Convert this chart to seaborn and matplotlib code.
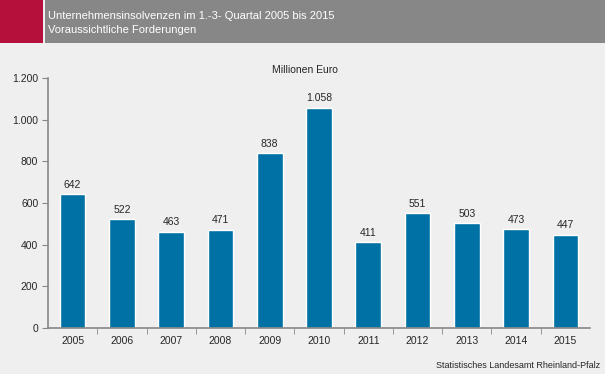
import pandas as pd
import matplotlib.pyplot as plt
import seaborn as sns
from matplotlib.patches import Rectangle

# Data
years = ['2005', '2006', '2007', '2008', '2009', '2010', '2011', '2012', '2013', '2014', '2015']
forderungen = [642, 522, 463, 471, 838, 1058, 411, 551, 503, 473, 447]
yticks = [0, 200, 400, 600, 800, 1000, 1200]
ytick_labels = ['0', '200', '400', '600', '800', '1.000', '1.200']

df = pd.DataFrame({'Jahr': years, 'Wert': forderungen})

bg = '#eeefee'
sns.set_style('white')
plt.rcParams['font.family'] = ['Liberation Sans', 'DejaVu Sans']

fig = plt.figure(figsize=(6.05, 3.74), dpi=100, facecolor=bg)

# Header band
fig.patches.append(Rectangle((0, 1 - 43 / 374), 43 / 605, 43 / 374, transform=fig.transFigure,
                             facecolor='#b5103c', edgecolor='none'))
fig.patches.append(Rectangle((45 / 605, 1 - 43 / 374), 1, 43 / 374, transform=fig.transFigure,
                             facecolor='#878787', edgecolor='none'))
fig.text(48 / 605, 1 - 16 / 374, 'Unternehmensinsolvenzen im 1.-3- Quartal 2005 bis 2015',
         color='white', fontsize=8, va='center', ha='left')
fig.text(48 / 605, 1 - 30 / 374, 'Voraussichtliche Forderungen',
         color='white', fontsize=8, va='center', ha='left')

ax = fig.add_axes([48 / 605, 1 - 328 / 374, (590 - 48) / 605, 250 / 374])
ax.set_facecolor(bg)
sns.barplot(data=df, x='Jahr', y='Wert', color='#0071a4', width=0.52, saturation=1, ax=ax)

for i, v in enumerate(forderungen):
    ax.text(i, v + 22, f'{v:,}'.replace(',', '.'), ha='center', va='bottom', fontsize=7.5)

ax.set_ylim(0, 1200)
ax.set_xlim(-0.5, len(years) - 0.5)
ax.set_yticks(yticks)
ax.set_yticklabels(ytick_labels, fontsize=7.5)
ax.tick_params(axis='x', labelsize=7.5, length=0, pad=6)
ax.tick_params(axis='y', length=4, color='#878787', direction='out', pad=3, left=True)
ax.set_xlabel('')
ax.set_ylabel('')
for s in ['top', 'right']:
    ax.spines[s].set_visible(False)
for s in ['left', 'bottom']:
    ax.spines[s].set_color('#878787')
    ax.spines[s].set_linewidth(1.2)
# minor ticks between categories on x axis
ax.set_xticks([i + 0.5 for i in range(len(years) - 1)], minor=True)
ax.tick_params(axis='x', which='minor', length=4, color='#878787', bottom=True)

fig.text(305 / 605, 1 - 70 / 374, 'Millionen Euro', fontsize=7.5, ha='center', va='center')

fig.text(600 / 605, 1 - 365 / 374, 'Statistisches Landesamt Rheinland-Pfalz',
         fontsize=6.5, ha='right', va='center')

plt.savefig('out.png', dpi=100, facecolor=bg)
